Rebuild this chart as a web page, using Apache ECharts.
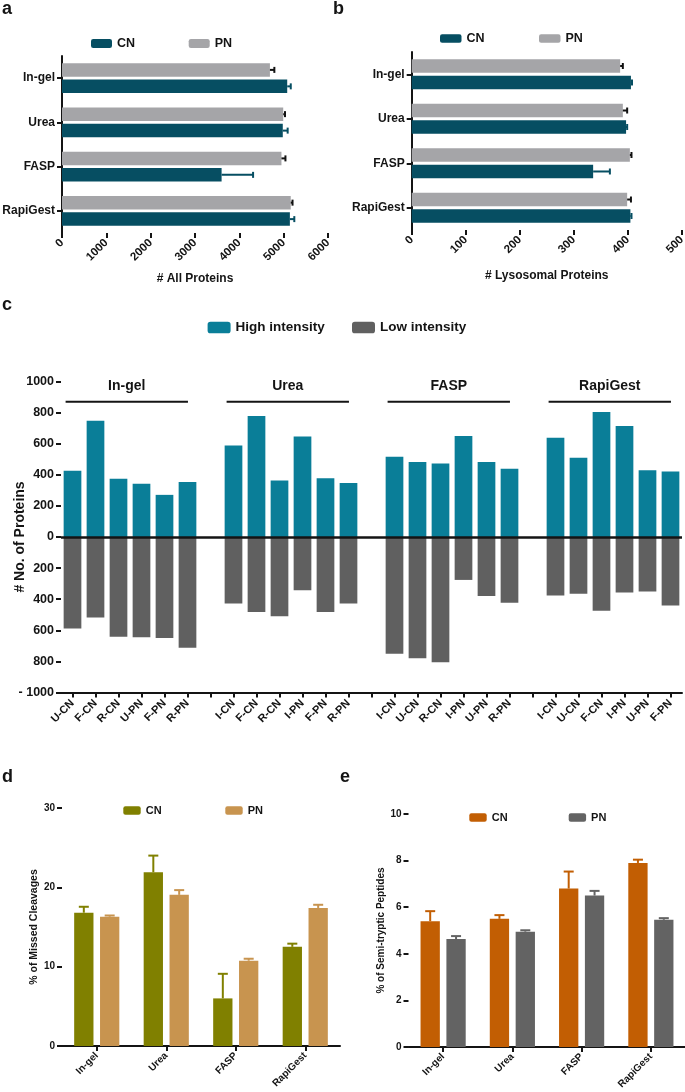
<!DOCTYPE html>
<html><head><meta charset="utf-8">
<script src="https://cdn.jsdelivr.net/npm/echarts@6/dist/echarts.min.js"></script>
<style>html,body{margin:0;padding:0;background:#fff}#c{width:685px;height:1092px}</style>
</head><body><div id="c"></div>
<script>
// ---------- data ----------
const methods = ['In-gel', 'Urea', 'FASP', 'RapiGest'];
// panel a: # All Proteins
const allCN = [5080, 4980, 3600, 5140];
const allCNErr = [80, 110, 710, 100];
const allPN = [4690, 4990, 4950, 5160];
const allPNErr = [100, 40, 90, 40];
// panel b: # Lysosomal Proteins
const lysoCN = [406, 397, 336, 405];
const lysoCNErr = [2, 2, 31, 2];
const lysoPN = [386, 391, 404, 399];
const lysoPNErr = [5, 8, 3, 7];
// panel c: high / low intensity protein counts
const intensityLabels = ['U-CN','F-CN','R-CN','U-PN','F-PN','R-PN','',
  'I-CN','F-CN','R-CN','I-PN','F-PN','R-PN','',
  'I-CN','U-CN','R-CN','I-PN','U-PN','R-PN','',
  'I-CN','U-CN','F-CN','I-PN','U-PN','F-PN'];
const highIntensity = [426, 748, 374, 342, 271, 353, null,
  589, 778, 363, 647, 378, 348, null,
  516, 482, 473, 649, 482, 439, null,
  639, 510, 804, 714, 430, 422];
const lowIntensity = [-588, -517, -641, -645, -650, -712, null,
  -427, -483, -509, -342, -483, -427, null,
  -750, -780, -806, -276, -380, -423, null,
  -376, -365, -474, -357, -350, -440];
const groupStart = [0, 7, 14, 21];
const groupEnd = [5, 12, 19, 26];
// panel d: % missed cleavages
const missedCN = [16.8, 21.9, 6.0, 12.5];
const missedCNErr = [0.75, 2.1, 3.1, 0.4];
const missedPN = [16.3, 19.05, 10.75, 17.4];
const missedPNErr = [0.15, 0.6, 0.25, 0.4];
// panel e: % semi-tryptic peptides
const semiCN = [5.4, 5.5, 6.8, 7.9];
const semiCNErr = [0.43, 0.16, 0.73, 0.14];
const semiPN = [4.63, 4.95, 6.5, 5.46];
const semiPNErr = [0.13, 0.06, 0.2, 0.07];

// ---------- style ----------
const F = '"Liberation Sans", Arial, Helvetica, sans-serif';
const INK = '#141414';
const C = {
  aCN: '#064E62', aPN: '#A5A5A8',
  high: '#0A7E98', low: '#606060',
  dCN: '#808000', dPN: '#C8944F',
  eCN: '#C25E03', ePN: '#636363'
};
const axisLine = { lineStyle: { color: INK, width: 2 } };
const axisTick = { show: true, length: 5, lineStyle: { color: INK, width: 2 } };
const lbl = (size, extra) => Object.assign({ color: INK, fontFamily: F, fontWeight: 'bold', fontSize: size }, extra || {});
const nameFmt = n => n.split('|')[0];
const plain = v => String(v);

function errSeries(gi, vals, errs, horizontal, offset, cap, color) {
  return {
    type: 'custom', xAxisIndex: gi, yAxisIndex: gi, silent: true, z: 5,
    encode: horizontal ? { x: 1, y: 0 } : { x: 0, y: 1 },
    data: vals.map((v, i) => [i, v, errs[i]]),
    renderItem(params, api) {
      const i = api.value(0), v = api.value(1), e = api.value(2);
      const st = { stroke: color, lineWidth: 2 };
      if (horizontal) {
        const a = api.coord([v, i]), b = api.coord([v + e, i]);
        const y = a[1] + offset;
        return { type: 'group', children: [
          { type: 'line', shape: { x1: a[0], y1: y, x2: b[0], y2: y }, style: st },
          { type: 'line', shape: { x1: b[0], y1: y - cap / 2, x2: b[0], y2: y + cap / 2 }, style: st }
        ] };
      }
      const a = api.coord([i, v]), b = api.coord([i, v + e]);
      const x = a[0] + offset;
      return { type: 'group', children: [
        { type: 'line', shape: { x1: x, y1: a[1], x2: x, y2: b[1] }, style: st },
        { type: 'line', shape: { x1: x - cap / 2, y1: b[1], x2: x + cap / 2, y2: b[1] }, style: st }
      ] };
    }
  };
}
function legendItem(name, left, top, w, h, size) {
  return { data: [name], left, top, itemWidth: w, itemHeight: h, icon: 'roundRect',
    selectedMode: false, formatter: nameFmt, padding: 0, itemGap: 0,
    textStyle: lbl(size) };
}

const HBW = 13.5, HGAP = 0.22, HOFF = HBW * (1 + HGAP) / 2;
const VBW = 19.3, VGAP = 0.34, VOFF = VBW * (1 + VGAP) / 2;
const G = { outerBoundsMode: 'none', containLabel: false };

const option = {
  animation: false,
  backgroundColor: '#fff',
  grid: [
    Object.assign({ left: 62, top: 56, width: 266, height: 177 }, G),
    Object.assign({ left: 411.7, top: 52, width: 270, height: 178 }, G),
    Object.assign({ left: 61, top: 381.5, width: 621, height: 311 }, G),
    Object.assign({ left: 62, top: 808, width: 278, height: 238 }, G),
    Object.assign({ left: 408.5, top: 814, width: 277, height: 233 }, G)
  ],
  xAxis: [
    { type: 'value', gridIndex: 0, min: 0, max: 6000, interval: 1000, splitLine: { show: false },
      axisLine, axisTick, axisLabel: lbl(11.5, { rotate: 45, margin: 8, formatter: plain }),
      name: '# All Proteins', nameLocation: 'middle', nameGap: 40, nameTextStyle: lbl(12) },
    { type: 'value', gridIndex: 1, min: 0, max: 500, interval: 100, splitLine: { show: false },
      axisLine, axisTick, axisLabel: lbl(11.5, { rotate: 45, margin: 8, formatter: plain }),
      name: '# Lysosomal Proteins', nameLocation: 'middle', nameGap: 40, nameTextStyle: lbl(12) },
    { type: 'category', gridIndex: 2, data: intensityLabels, axisLine: Object.assign({ onZero: false }, axisLine),
      axisTick: Object.assign({ alignWithLabel: true, interval: 0 }, axisTick),
      axisLabel: lbl(11, { rotate: 45, interval: 0, margin: 9 }) },
    { type: 'category', gridIndex: 3, data: methods, axisLine,
      axisTick: Object.assign({ alignWithLabel: true }, axisTick),
      axisLabel: lbl(10, { rotate: 45, margin: 8 }) },
    { type: 'category', gridIndex: 4, data: methods, axisLine,
      axisTick: Object.assign({ alignWithLabel: true }, axisTick),
      axisLabel: lbl(10, { rotate: 45, margin: 8 }) }
  ],
  yAxis: [
    { type: 'category', gridIndex: 0, data: methods, inverse: true, axisLine,
      axisTick: Object.assign({ alignWithLabel: true }, axisTick), axisLabel: lbl(12, { margin: 7 }) },
    { type: 'category', gridIndex: 1, data: methods, inverse: true, axisLine,
      axisTick: Object.assign({ alignWithLabel: true }, axisTick), axisLabel: lbl(12, { margin: 7 }) },
    { type: 'value', gridIndex: 2, min: -1000, max: 1000, interval: 200, splitLine: { show: false },
      axisLine, axisTick, axisLabel: lbl(12.5, { margin: 7, formatter: v => v === -1000 ? '- 1000' : String(Math.abs(v)) }),
      name: '# No. of Proteins', nameLocation: 'middle', nameGap: 34, nameMoveOverlap: false, nameTextStyle: lbl(14) },
    { type: 'value', gridIndex: 3, min: 0, max: 30, interval: 10, splitLine: { show: false },
      axisLine, axisTick, axisLabel: lbl(10, { margin: 7 }),
      name: '% of Missed Cleavages', nameLocation: 'middle', nameGap: 22, nameTextStyle: lbl(10.5) },
    { type: 'value', gridIndex: 4, min: 0, max: 10, interval: 2, splitLine: { show: false },
      axisLine, axisTick, axisLabel: lbl(10, { margin: 7 }),
      name: '% of Semi-tryptic Peptides', nameLocation: 'middle', nameGap: 20, nameTextStyle: lbl(10) }
  ],
  legend: [
    legendItem('CN|a', 91, 37, 21, 9, 12.5),
    legendItem('PN|a', 188.7, 37, 21, 9, 12.5),
    legendItem('CN|b', 440, 32, 21.5, 8.5, 12.5),
    legendItem('PN|b', 539, 32, 21.5, 8.5, 12.5),
    legendItem('High intensity', 207.6, 320.5, 23, 11.5, 13.5),
    legendItem('Low intensity', 352, 320.5, 23, 11.5, 13.5),
    legendItem('CN|d', 123.3, 805, 17.4, 8.5, 11),
    legendItem('PN|d', 225.3, 805, 17.4, 8.5, 11),
    legendItem('CN|e', 469.3, 812, 17.4, 8.5, 11),
    legendItem('PN|e', 568.7, 812, 17.4, 8.5, 11)
  ],
  series: [
    // panel a
    { type: 'bar', name: 'PN|a', xAxisIndex: 0, yAxisIndex: 0, data: allPN, barWidth: HBW, barGap: (HGAP * 100) + '%', itemStyle: { color: C.aPN } },
    { type: 'bar', name: 'CN|a', xAxisIndex: 0, yAxisIndex: 0, data: allCN, barWidth: HBW, barGap: (HGAP * 100) + '%', itemStyle: { color: C.aCN } },
    errSeries(0, allPN, allPNErr, true, -HOFF, 6, '#111'),
    errSeries(0, allCN, allCNErr, true, HOFF, 6, C.aCN),
    // panel b
    { type: 'bar', name: 'PN|b', xAxisIndex: 1, yAxisIndex: 1, data: lysoPN, barWidth: HBW, barGap: (HGAP * 100) + '%', itemStyle: { color: C.aPN } },
    { type: 'bar', name: 'CN|b', xAxisIndex: 1, yAxisIndex: 1, data: lysoCN, barWidth: HBW, barGap: (HGAP * 100) + '%', itemStyle: { color: C.aCN } },
    errSeries(1, lysoPN, lysoPNErr, true, -HOFF, 6, '#111'),
    errSeries(1, lysoCN, lysoCNErr, true, HOFF, 6, C.aCN),
    // panel c
    { type: 'bar', name: 'High intensity', xAxisIndex: 2, yAxisIndex: 2, data: highIntensity,
      barCategoryGap: '23%', barGap: '-100%', itemStyle: { color: C.high },
      markLine: { silent: true, symbol: ['none', 'none'], label: { show: false },
        lineStyle: { color: INK, width: 2.5, type: 'solid' }, data: [{ yAxis: 0 }] } },
    { type: 'bar', name: 'Low intensity', xAxisIndex: 2, yAxisIndex: 2, data: lowIntensity,
      barCategoryGap: '23%', barGap: '-100%', itemStyle: { color: C.low } },
    { type: 'custom', xAxisIndex: 2, yAxisIndex: 2, silent: true, encode: { x: [0, 1], y: 2 },
      data: methods.map((n, k) => [groupStart[k], groupEnd[k], 870, k]),
      renderItem(params, api) {
        const bw = api.size([1, 0])[0];
        const s = api.coord([api.value(0), api.value(2)]);
        const e = api.coord([api.value(1), api.value(2)]);
        const x1 = s[0] - 0.3 * bw, x2 = e[0] + 0.02 * bw;
        return { type: 'group', children: [
          { type: 'line', shape: { x1, y1: s[1], x2, y2: s[1] }, style: { stroke: INK, lineWidth: 2 } },
          { type: 'text', x: (x1 + x2) / 2, y: s[1] - 16,
            style: { text: methods[api.value(3)], font: 'bold 14px ' + F, fill: INK, align: 'center', verticalAlign: 'middle' } }
        ] };
      } },
    // panel d
    { type: 'bar', name: 'CN|d', xAxisIndex: 3, yAxisIndex: 3, data: missedCN, barWidth: VBW, barGap: (VGAP * 100) + '%', itemStyle: { color: C.dCN } },
    { type: 'bar', name: 'PN|d', xAxisIndex: 3, yAxisIndex: 3, data: missedPN, barWidth: VBW, barGap: (VGAP * 100) + '%', itemStyle: { color: C.dPN } },
    errSeries(3, missedCN, missedCNErr, false, -VOFF, 10, C.dCN),
    errSeries(3, missedPN, missedPNErr, false, VOFF, 10, C.dPN),
    // panel e
    { type: 'bar', name: 'CN|e', xAxisIndex: 4, yAxisIndex: 4, data: semiCN, barWidth: VBW, barGap: (VGAP * 100) + '%', itemStyle: { color: C.eCN } },
    { type: 'bar', name: 'PN|e', xAxisIndex: 4, yAxisIndex: 4, data: semiPN, barWidth: VBW, barGap: (VGAP * 100) + '%', itemStyle: { color: C.ePN } },
    errSeries(4, semiCN, semiCNErr, false, -VOFF, 10, C.eCN),
    errSeries(4, semiPN, semiPNErr, false, VOFF, 10, C.ePN)
  ],
  graphic: [
    { type: 'text', left: 2, top: 0, style: { text: 'a', font: 'bold 18px ' + F, fill: INK } },
    { type: 'text', left: 333, top: 0, style: { text: 'b', font: 'bold 18px ' + F, fill: INK } },
    { type: 'text', left: 2, top: 296, style: { text: 'c', font: 'bold 18px ' + F, fill: INK } },
    { type: 'text', left: 2, top: 768, style: { text: 'd', font: 'bold 18px ' + F, fill: INK } },
    { type: 'text', left: 340, top: 768, style: { text: 'e', font: 'bold 18px ' + F, fill: INK } }
  ]
};
const chart = echarts.init(document.getElementById('c'), null, { renderer: 'canvas' });
chart.setOption(option);
</script></body></html>
